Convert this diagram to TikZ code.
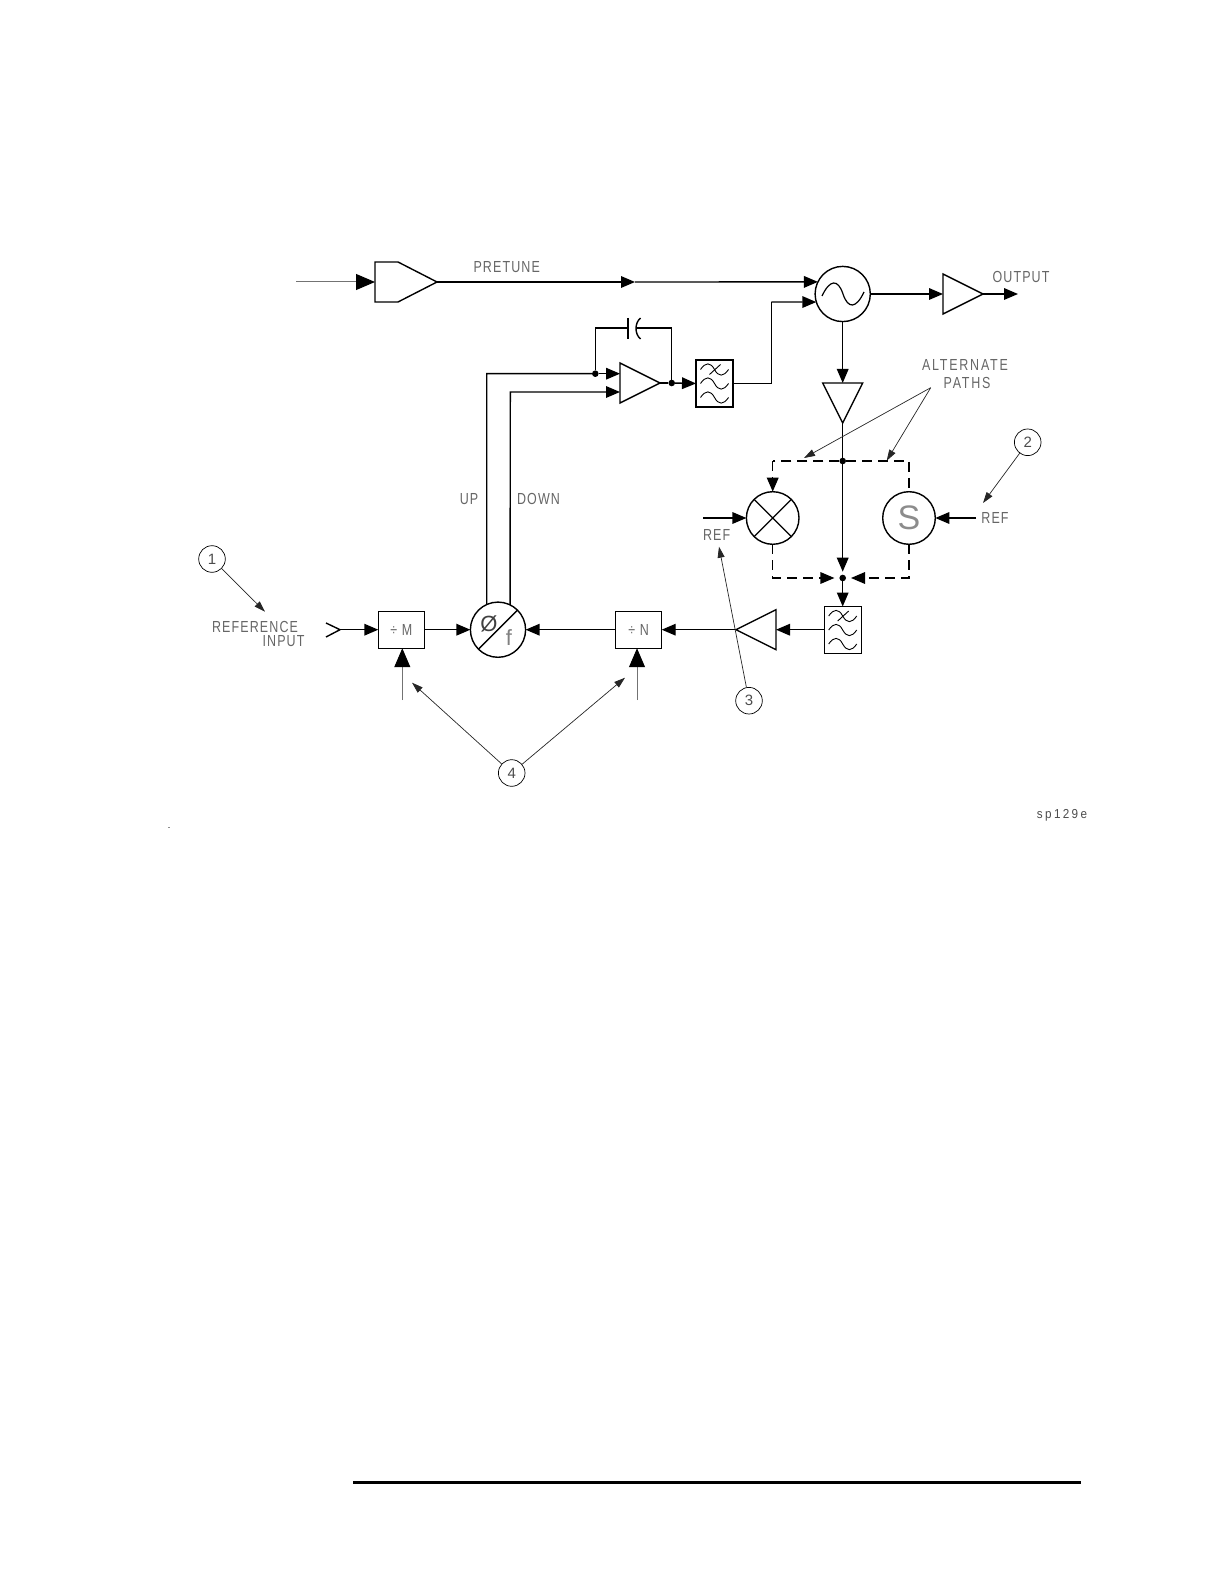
\documentclass[tikz,border=0pt]{standalone}
\usepackage{fontspec}
\setmainfont{Liberation Sans}
\newfontfamily\cadfont[LetterSpace=7,FakeStretch=0.78]{Liberation Sans}
\newfontfamily\widefont[LetterSpace=11,FakeStretch=0.78]{Liberation Sans}
\newfontfamily\tagfont[LetterSpace=18,FakeStretch=0.9]{Liberation Sans}
\usetikzlibrary{arrows.meta,shapes.geometric}
\tikzset{
    every node/.style={inner sep=0pt, outer sep=0pt},
    wire/.style={line width=0.7pt, black},
    tipped/.style={wire, -{Triangle[length=7pt,width=5.8pt]}},
    bigtip/.style={line width=0.5pt, black!55, -{Triangle[length=9.5pt,width=8pt,color=black,fill=black]}},
    dashwire/.style={wire, dash pattern=on 5pt off 3pt},
    pointer/.style={line width=0.35pt, black!85, -{Triangle[length=5.5pt,width=3.5pt]}},
    roundbox/.style={draw, circle, line width=0.7pt, minimum size=27.6pt},
    mixbox/.style={draw, circle, line width=0.7pt, minimum size=26.3pt},
    filterbox/.style={draw, rectangle, line width=0.6pt, minimum width=18.5pt, minimum height=23.5pt},
    divbox/.style={draw, rectangle, line width=0.7pt, minimum width=23pt, minimum height=18.5pt, text=black!60, font=\cadfont\fontsize{8}{8}\selectfont},
    ampbox/.style={draw, isosceles triangle, isosceles triangle stretches, line width=0.7pt, minimum width=20pt, minimum height=20pt, anchor=lower side},
    joint/.style={circle, fill=black, minimum size=3.3pt},
    callout/.style={draw, circle, line width=0.35pt, minimum size=13.3pt, text=black!70, font=\fontsize{7.5}{8}\selectfont},
    label/.style={text=black!60, font=\cadfont\fontsize{8}{9}\selectfont},
    widelabel/.style={text=black!60, font=\widefont\fontsize{8}{9}\selectfont},
    wave/.style={line width=0.45pt},
}
\newcommand{\drawwaves}[1]{
    \begin{scope}[shift={(#1)}]
        \foreach \wavey in {-14,0,14}
            \draw[wave] (-14,\wavey) .. controls (-9,{\wavey-7.5}) and (-4,{\wavey-7.5}) .. (0,\wavey)
                .. controls (4,{\wavey+7.5}) and (9,{\wavey+7.5}) .. (14,\wavey);
        \draw[wave] (-5,-9) -- (6,-19);
    \end{scope}
}
\begin{document}
\begin{tikzpicture}[x=0.5pt, y=-0.5pt]
    \useasboundingbox (0,0) rectangle (1224,1582);

    % upper row
    \coordinate (pretunein) at (296,282);
    \coordinate (pretuneleft) at (375,282);
    \coordinate (pretunetip) at (437,282);
    \coordinate (pretunemid) at (635,282);
    \draw[wire] (375,262) -- (398,262) -- (pretunetip) -- (398,302) -- (375,302) -- cycle;
    \node[roundbox] (vco) at (842.7,294) {};
    \node[ampbox] (outamp) at (943,294) {};
    \coordinate (outend) at (1018,294);
    \draw[bigtip] (pretunein) -- (pretuneleft);
    \draw[tipped] (pretunetip) -- (pretunemid);
    \draw[tipped] (pretunemid) -- (vco.154);
    \draw[tipped] (vco.east) -- (outamp.lower side);
    \draw[tipped] (outamp.apex) -- (outend);
    \draw[line width=0.6pt] (822,296) .. controls (830,279) and (838,279) .. (843,294)
        .. controls (848,309) and (856,309) .. (864,292);
    \node[label] (pretunetext) at (506.7,267) {PRETUNE};
    \node[label] (outputtext) at (1021,277) {OUTPUT};

    % loop amplifier and filter
    \node[ampbox] (loopamp) at (620,383) {};
    \node[filterbox] (filterone) at (714.5,383.5) {};
    \drawwaves{filterone.center}
    \node[joint] (updot) at (595.3,373.7) {};
    \node[joint] (outdot) at (671.7,383) {};
    \coordinate (upin) at (620,373.7);
    \coordinate (downin) at (620,392);
    \coordinate (capleft) at (628,328);
    \coordinate (capright) at (636,328);
    \coordinate (vcobend) at (771.3,302);
    \draw[wire] (updot) |- (capleft);
    \draw[wire] (628,318) -- (628,339);
    \draw[wire] (640.5,318) .. controls (634.5,323) and (634.5,334) .. (640.5,339);
    \draw[wire] (capright) -| (outdot);
    \draw[tipped] (updot) -- (upin);
    \draw[wire] (loopamp.apex) -- (outdot);
    \draw[tipped] (outdot) -- (filterone.west);
    \draw[wire] (filterone.east) -| (vcobend);
    \draw[tipped] (vcobend) -- (vco.197);

    % alternate paths
    \node[ampbox, shape border rotate=270] (downamp) at (842.7,383) {};
    \node[joint] (topdot) at (842.7,461) {};
    \node[joint] (lowdot) at (842.7,578) {};
    \node[mixbox] (mixer) at (772.7,518) {};
    \node[mixbox] (synth) at (909,518) {};
    \node[filterbox] (filtertwo) at (842.7,630) {};
    \drawwaves{filtertwo.center}
    \draw[line width=0.6pt] (mixer.45) -- (mixer.225) (mixer.135) -- (mixer.315);
    \node[text=black!45, font=\fontsize{17}{17}\selectfont] (synthtext) at (synth.center) {S};
    \draw[tipped] (vco.south) -- (downamp.lower side);
    \draw[wire] (downamp.apex) -- (topdot);
    \draw[tipped, shorten >=1.5pt] (topdot) -- (lowdot);
    \draw[tipped] (lowdot) -- (filtertwo.north);
    \draw[dashwire] (topdot) -- (772.7,461);
    \draw[dashwire] (topdot) -- (909,461) -- (synth.north);
    \draw[dashwire, -{Triangle[length=7pt,width=5.8pt]}] (772.7,461) -- (mixer.north);
    \draw[dashwire, -{Triangle[length=7pt,width=5.8pt]}, shorten >=2.5pt] (mixer.south) |- (lowdot);
    \draw[dashwire, -{Triangle[length=7pt,width=5.8pt]}, shorten >=2.5pt] (synth.south) |- (lowdot);
    \node[label] (reftextl) at (716.7,535) {REF};
    \node[label] (reftextr) at (995,518) {REF};
    \coordinate (refinl) at (703,518);
    \coordinate (refinr) at (976,518);
    \draw[tipped] (refinl) -- (mixer.west);
    \draw[tipped] (refinr) -- (synth.east);
    \node[widelabel] (alttext) at (965,365) {ALTERNATE};
    \node[widelabel] (pathstext) at (967,382.7) {PATHS};

    % lower row
    \node[ampbox, shape border rotate=180] (backamp) at (776,629.7) {};
    \node[divbox] (divn) at (638.7,629.7) {÷ N};
    \node[divbox] (divm) at (401.3,629.7) {÷ M};
    \node[roundbox] (phase) at (498,629.7) {};
    \draw[line width=0.7pt] (phase.225) -- (phase.45);
    \node[text=black!75, font=\fontsize{11}{11}\selectfont] (phasetext) at (489,624) {Ø};
    \node[text=black!50, font=\fontsize{11}{11}\selectfont] (freqtext) at (509,638) {f};
    \coordinate (refleft) at (340,629.7);
    \draw[wire] (326,623) -- (refleft) -- (326,637);
    \draw[tipped] (refleft) -- (divm.west);
    \draw[tipped] (divm.east) -- (phase.west);
    \draw[tipped] (divn.west) -- (phase.east);
    \draw[tipped] (backamp.apex) -- (divn.east);
    \draw[tipped] (filtertwo.west |- backamp.lower side) -- (backamp.lower side);
    \coordinate (mctrl) at (402.3,700);
    \coordinate (nctrl) at (637,700);
    \draw[bigtip] (mctrl) -- (402.3,648.2);
    \draw[bigtip] (nctrl) -- (637,648.2);
    \coordinate (upbend) at (486.7,373.7);
    \coordinate (downbend) at (510.3,392);
    \draw[wire] (phase.114) -- (upbend) -- (updot);
    \draw[tipped] (phase.64) -- (downbend) -- (downin);
    \node[label] (uptext) at (469,499) {UP};
    \node[label] (downtext) at (538.5,499) {DOWN};
    \node[label] (reftext) at (255,627) {REFERENCE};
    \node[label] (inputtext) at (283.5,641) {INPUT};

    % callouts
    \node[callout] (callone) at (212,559) {1};
    \node[callout] (calltwo) at (1027.7,442.3) {2};
    \node[callout] (callthree) at (749,700.7) {3};
    \node[callout] (callfour) at (511.7,773) {4};
    \coordinate (oneend) at (265,611.7);
    \coordinate (twoend) at (983,503);
    \coordinate (threeend) at (719,546.7);
    \coordinate (fourm) at (412,682.7);
    \coordinate (fourn) at (625,677.7);
    \coordinate (altstart) at (930.7,387.7);
    \coordinate (altmix) at (804,458);
    \coordinate (altsyn) at (886.7,460.7);
    \draw[pointer] (callone) -- (oneend);
    \draw[pointer] (calltwo) -- (twoend);
    \draw[pointer] (callthree) -- (threeend);
    \draw[pointer] (callfour) -- (fourm);
    \draw[pointer] (callfour) -- (fourn);
    \draw[pointer] (altstart) -- (altmix);
    \draw[pointer] (altstart) -- (altsyn);

    % page marks
    \node[text=black!70, font=\tagfont\fontsize{6.5}{8}\selectfont] (tagtext) at (1062,815) {sp129e};
    \fill[black!45] (167.5,826.5) rectangle (169.5,827.5);
    \draw[line width=1.5pt] (353,1482) -- (1081,1482);
\end{tikzpicture}
\end{document}
